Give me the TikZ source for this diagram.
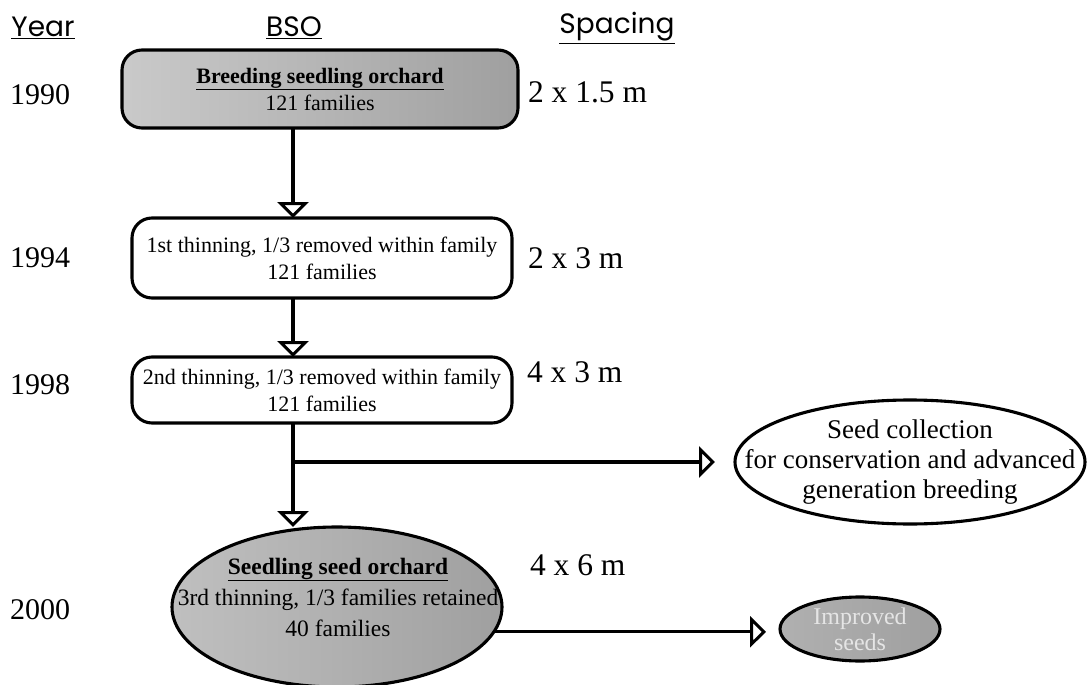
\documentclass[tikz,border=0pt]{standalone}
\usepackage{fontspec}
\setmainfont{Liberation Serif}
\newfontfamily\hdrfont{Poppins}
\usetikzlibrary{arrows.meta,shapes.geometric}
\begin{document}
\begin{tikzpicture}[x=1pt,y=-1pt,
  every node/.style={inner sep=0pt, outer sep=0pt},
  lbl/.style={font=\fontsize{22}{27}\selectfont, align=center},
  yr/.style={font=\fontsize{30}{31}\selectfont, anchor=west},
  spc/.style={font=\fontsize{31.5}{33}\selectfont, anchor=west},
  hdr/.style={font=\hdrfont\fontsize{28}{30}\selectfont},
  flow/.style={line width=3.1pt},
  tri/.style={-{Triangle[open,length=16pt,width=31pt,line width=3pt]}},
  rbox/.style={draw, line width=3.1pt, rounded corners=20pt},
  oval/.style={draw, ellipse, line width=3.1pt},
  grayfill/.style={left color=gray!42, right color=gray!75, middle color=gray!58},
]
\useasboundingbox (0,0) rectangle (1088,685);

% headers
\node[hdr] (hyear) at (43,28) {\underline{Year}};
\node[hdr] (hbso) at (294,28) {\underline{BSO}};
\node[hdr] (hspc) at (617,28) {\underline{Spacing}};

% year labels
\node[yr] (y1990) at (10,95) {1990};
\node[yr] (y1994) at (10,258) {1994};
\node[yr] (y1998) at (10,385) {1998};
\node[yr] (y2000) at (10,610) {2000};

% spacing labels
\node[spc] (s1) at (528,92) {2 x 1.5 m};
\node[spc] (s2) at (528,258) {2 x 3 m};
\node[spc] (s3) at (527,372) {4 x 3 m};
\node[spc] (s4) at (530,565) {4 x 6 m};

% boxes
\node[rbox, grayfill, minimum width=396pt, minimum height=78pt, lbl] (b1) at (320,89)
  {\textbf{\underline{Breeding seedling orchard}}\\121 families};
\node[rbox, minimum width=380pt, minimum height=80pt, lbl] (b2) at (322,258)
  {1st thinning, 1/3 removed within family\\121 families};
\node[rbox, minimum width=380pt, minimum height=66pt, lbl] (b3) at (322,390)
  {2nd thinning, 1/3 removed within family\\121 families};

% ellipses
\node[oval, minimum width=350pt, minimum height=124pt] (seed) at (910,462) {};
\node[lbl, font=\fontsize{27}{30}\selectfont] (seedtxt) at (seed.center) {Seed collection\\for conservation and advanced\\generation breeding};

\node[oval, left color=gray!50, right color=gray!75, middle color=gray!62, minimum width=330pt, minimum height=160pt] (sso) at (337,607) {};
\node[lbl, font=\fontsize{23.5}{31}\selectfont] (ssotxt) at (338,597) {\textbf{\underline{Seedling seed orchard}}\\3rd thinning, 1/3 families retained\\40 families};

\node[oval, left color=gray!62, right color=gray!75, minimum width=160pt, minimum height=64pt] (imp) at (860,629) {};
\node[lbl, text=gray!20, font=\fontsize{24}{26}\selectfont] (imptxt) at (imp.center) {Improved\\seeds};

% connectors
\coordinate (lx) at (293,0);
\coordinate (br) at (293,462);
\draw[flow, tri] (b1.south -| lx) -- (b2.north -| lx);
\draw[flow, tri] (b2.south -| lx) -- (b3.north -| lx);
\draw[flow, tri] (b3.south -| lx) -- (sso.north -| lx);
\draw[flow, tri, shorten >=20pt] (br) -- (br -| seed.west);
\draw[flow, tri, shorten >=14pt] (sso.-9) -- (sso.-9 -| imp.west);
\end{tikzpicture}
\end{document}
